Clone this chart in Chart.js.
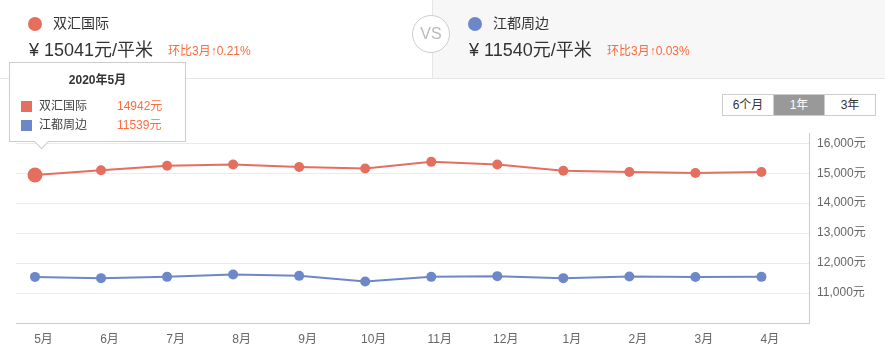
<!DOCTYPE html>
<html><head><meta charset="utf-8">
<script src="https://cdn.jsdelivr.net/npm/chart.js@4/dist/chart.umd.min.js"></script>
<style>
html,body{margin:0;padding:0}
body{width:885px;height:357px;overflow:hidden;background:#fff;position:relative;font-family:"Liberation Sans",Arial,"Noto Sans CJK SC",sans-serif;color:#333}
#hdrR{position:absolute;left:432px;top:0;width:453px;height:78px;background:#f7f7f7;border-left:1px solid #e6e6e6}
#hdrLine{position:absolute;left:0;top:78px;width:885px;height:1px;background:#e6e6e6}
canvas{position:absolute;left:0;top:0}
.dot{position:absolute;width:14px;height:14px;border-radius:50%}
.name{position:absolute;font-size:14px;line-height:20px;color:#333;white-space:nowrap}
.price{position:absolute;font-size:18px;line-height:24px;color:#333;white-space:nowrap}
.chg{position:absolute;font-size:12px;line-height:16px;color:#fa6b3c;white-space:nowrap}
#vs{position:absolute;left:412px;top:15px;width:36px;height:36px;border:1px solid #ccc;border-radius:50%;background:#fff;color:#bbb;font-size:16px;line-height:36px;text-align:center}
#toggle{position:absolute;left:722px;top:94px;height:20px;border:1px solid #ccc;display:flex;font-size:12px;background:#fff}
#toggle div{width:50px;text-align:center;line-height:20px;color:#333}
#toggle div+div{border-left:1px solid #ccc}
#toggle .on{background:#999;color:#fff}
#tip{position:absolute;width:175px;height:78px;border:1px solid #ccc;background:#fff;font-size:12px;color:#444}
#tip .tt{position:absolute;left:0;width:100%;top:9px;text-align:center;font-weight:bold;color:#333;line-height:17px}
#tip .row{position:absolute;left:0;width:100%;height:17px;line-height:17px}
#tip .sw{position:absolute;left:11px;top:3px;width:11px;height:11px}
#tip .nm{position:absolute;left:29px}
#tip .val{position:absolute;left:107px;color:#ff6b3d}
#tip .arrow{position:absolute;width:10px;height:10px;background:#fff;border-right:1px solid #ccc;border-bottom:1px solid #ccc;transform:rotate(45deg)}
</style></head><body>
<div id="hdrR"></div><div id="hdrLine"></div>
<canvas id="c" width="885" height="357"></canvas>
<div id="header"></div>
<div id="vs">VS</div>
<div id="toggle"></div>
<div id="tip"></div>
<script>
// ---- data ----
const months = ['5月','6月','7月','8月','9月','10月','11月','12月','1月','2月','3月','4月'];
const seriesNames = ['双汇国际','江都周边'];
const shuanghui = [14942,15100,15250,15290,15210,15160,15380,15290,15080,15040,15009,15041];
const jiangdu = [11539,11497,11540,11620,11574,11387,11540,11564,11497,11550,11537,11540];
const yTicks = [11000,12000,13000,14000,15000,16000];
const headerPrices = [15041,11540];
const headerChanges = ['环比3月↑0.21%','环比3月↑0.03%'];
const rangeOptions = ['6个月','1年','3年'];
const tooltipYear = '2020';
const activeIndex = 0;

const RED = '#e56f5e';
const BLUE = '#6d88c8';
const colors = [RED, BLUE];

// ---- header ----
const hdr = document.getElementById('header');
const hx = [0, 440];
[0,1].forEach(k=>{
  const ox = hx[k];
  hdr.insertAdjacentHTML('beforeend',
    `<div class="dot" style="left:${ox+28}px;top:17px;background:${colors[k]}"></div>`+
    `<div class="name" style="left:${ox+53}px;top:13px">${seriesNames[k]}</div>`+
    `<div class="price" style="left:${ox+29}px;top:38px">¥ ${headerPrices[k]}元/平米</div>`+
    `<div class="chg" style="left:${ox+168 - (k?1:0)}px;top:43px">${headerChanges[k]}</div>`);
});
document.getElementById('toggle').innerHTML = rangeOptions.map((t,i)=>`<div class="${i===1?'on':''}">${t}</div>`).join('');

// ---- chart ----
Chart.defaults.font.family = '"Liberation Sans", Arial, "Noto Sans CJK SC", sans-serif';
const mk = (arr)=>arr.map((v,i)=>({x:i,y:v}));
const chart = new Chart(document.getElementById('c'), {
  type:'line',
  data:{datasets:[
    {label:seriesNames[0], data:mk(shuanghui), borderColor:RED, backgroundColor:RED, pointBackgroundColor:RED,
     borderWidth:2, pointBorderWidth:0, tension:0,
     pointRadius:c=>c.dataIndex===activeIndex?7.5:5},
    {label:seriesNames[1], data:mk(jiangdu), borderColor:BLUE, backgroundColor:BLUE, pointBackgroundColor:BLUE,
     borderWidth:2, pointBorderWidth:0, tension:0, pointRadius:5}
  ]},
  options:{
    responsive:false, animation:false, events:[],
    layout:{padding:{left:16, top:133, right:0, bottom:0}},
    plugins:{legend:{display:false}, tooltip:{enabled:false}},
    scales:{
      x:{type:'linear', min:-0.2875, max:11.72,
        afterBuildTicks:s=>{s.ticks = months.map((m,i)=>({value:i}));},
        ticks:{callback:v=>months[v], labelOffset:8.5, padding:9, color:'#666', font:{size:12}, autoSkip:false, maxRotation:0},
        grid:{display:false, drawTicks:false}, border:{color:'#ccc'},
        afterFit:s=>{s.height=34;}},
      y:{position:'right', min:10000, max:16343,
        afterBuildTicks:s=>{s.ticks = yTicks.map(v=>({value:v}));},
        ticks:{callback:v=>v.toLocaleString('en-US')+'元', padding:8, color:'#666', font:{size:12}},
        grid:{color:'#ebebeb', drawTicks:false}, border:{color:'#ccc'},
        afterFit:s=>{s.width=76;}}
    }
  }
});

// ---- tooltip (HTML) positioned from the chart's own point ----
const p = chart.getDatasetMeta(0).data[activeIndex];
const tip = document.getElementById('tip');
const vals = [shuanghui[activeIndex], jiangdu[activeIndex]];
tip.innerHTML = `<div class="tt">${tooltipYear}年${months[activeIndex]}</div>` +
  [0,1].map(k=>`<div class="row" style="top:${35+k*19}px"><span class="sw" style="background:${colors[k]}"></span><span class="nm">${seriesNames[k]}</span><span class="val">${vals[k]}元</span></div>`).join('') +
  `<div class="arrow" style="left:26px;top:73px"></div>`;
tip.style.left = (p.x - 26) + 'px';
tip.style.top = (p.y - 113) + 'px';
</script>
</body></html>
